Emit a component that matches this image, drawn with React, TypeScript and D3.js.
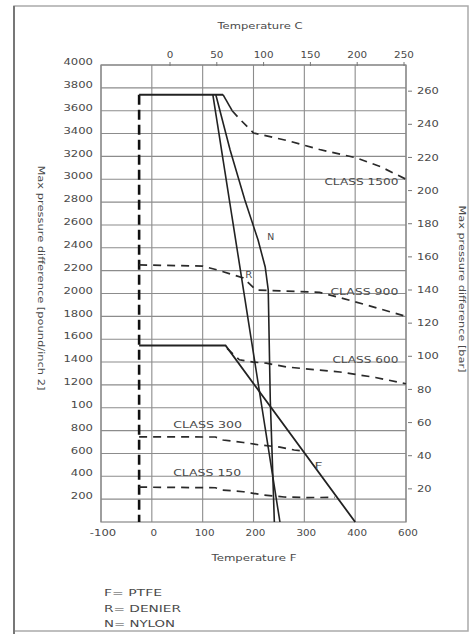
import React from "react";
import * as d3 from "d3";

// axis ticks
const F_TICKS = [-100, 0, 100, 200, 300, 400, 500];
const F_LABELS = ["-100", "0", "100", "200", "300", "400", "600"];
const C_TICKS = [0, 50, 100, 150, 200, 250];
const PSI_TICKS = [200, 400, 600, 800, 1000, 1200, 1400, 1600, 1800, 2000, 2200, 2400, 2600, 2800, 3000, 3200, 3400, 3600, 3800, 4000];
const PSI_LABELS = ["200", "400", "600", "800", "100", "1200", "1400", "1600", "1800", "2000", "2200", "2400", "2600", "2800", "3000", "3200", "3400", "3600", "3800", "4000"];
const BAR_TICKS = [20, 40, 60, 80, 100, 120, 140, 160, 180, 200, 220, 240, 260];
const PSI_PER_BAR = 14.5038;

// curves: [temperature F, pressure psi]
const minTemp = [[-25, 3740], [-25, 0]];
const flatTop = [[-25, 3740], [140, 3740]];
const class1500Knee = [[140, 3740], [158, 3600]];
const class1500 = [[158, 3600], [170, 3540], [200, 3405], [270, 3335], [330, 3260], [400, 3190], [450, 3110], [500, 3000]];
const class900 = [[-25, 2250], [100, 2240], [130, 2205], [180, 2136], [205, 2030], [330, 2010], [365, 1970], [430, 1890], [500, 1800]];
const ptfe = [[-25, 1545], [145, 1545], [400, 0]];
const class600 = [[148, 1520], [172, 1420], [200, 1400], [225, 1390], [265, 1357], [370, 1313], [440, 1265], [500, 1210]];
const class300 = [[-25, 745], [125, 744], [140, 718], [180, 696], [213, 674], [252, 656], [280, 630], [298, 622]];
const class150 = [[-25, 305], [125, 300], [138, 280], [180, 265], [220, 236], [260, 219], [300, 214], [360, 215]];
const denier = [[120, 3740], [252, 0]];
const nylon = [[126, 3737], [154, 3256], [183, 2818], [209, 2468], [223, 2232], [229, 2031], [233, 1068], [237, 543], [241, 0]];

const legend = ["F= PTFE", "R= DENIER", "N= NYLON"];

const W = 476;
const H = 634;

const x = d3.scaleLinear().domain([-100, 500]).range([101, 406]);
const y = d3.scaleLinear().domain([0, 4000]).range([522, 65]);
const yBar = d3.scaleLinear().domain([0, 4000 / PSI_PER_BAR]).range([522, 65]);
const xC = d3.scaleLinear().domain([0, 250]).range([170, 404]);

const line = d3
  .line<number[]>()
  .x((d) => x(d[0]))
  .y((d) => y(d[1]));

const TXT = "#4a4a4a";

const Label = ({ x, y, len, anchor = "start", size = 9, children, transform }: any) => (
  <text
    x={x}
    y={y}
    dy="0.35em"
    fontSize={size}
    fill={TXT}
    textAnchor={anchor}
    textLength={len}
    lengthAdjust="spacingAndGlyphs"
    transform={transform}
  >
    {children}
  </text>
);

export default function App() {
  const solid = { fill: "none", stroke: "#222", strokeWidth: 1.6 };
  const dashed = { fill: "none", stroke: "#2a2a2a", strokeWidth: 1.7, strokeDasharray: "8,6" };

  return (
    <>
      <style>{"body{margin:0;background:#fff}"}</style>
      <svg width={W} height={H} style={{ display: "block", fontFamily: "DejaVu Sans, sans-serif" }}>
        {/* frame */}
        <rect x={14} y={6} width={454} height={625} fill="#fff" stroke="#aaa" strokeWidth={1.5} />
        <line x1={14} y1={6} x2={14} y2={634} stroke="#777" strokeWidth={2} />

        {/* grid */}
        {PSI_TICKS.map((v) => (
          <line key={"h" + v} x1={x(-100)} x2={x(500)} y1={y(v)} y2={y(v)} stroke="#8c8c8c" strokeWidth={1.1} />
        ))}
        {F_TICKS.map((v) => (
          <line key={"v" + v} x1={x(v)} x2={x(v)} y1={y(4000)} y2={y(0)} stroke="#8c8c8c" strokeWidth={1.1} />
        ))}
        <rect x={x(-100)} y={y(4000)} width={x(500) - x(-100)} height={y(0) - y(4000)} fill="none" stroke="#888" strokeWidth={1.2} />

        {/* left axis */}
        {PSI_TICKS.map((v, i) => (
          <Label key={"pl" + v} x={93} y={y(v) - 3} anchor="end" len={PSI_LABELS[i].length * 7.4}>
            {PSI_LABELS[i]}
          </Label>
        ))}
        {/* bottom axis */}
        {F_TICKS.map((v, i) => (
          <Label key={"fl" + v} x={x(v) + 2} y={533} anchor="middle" len={F_LABELS[i].length * 6.6}>
            {F_LABELS[i]}
          </Label>
        ))}
        {/* top axis */}
        {C_TICKS.map((v) => (
          <g key={"c" + v}>
            <line x1={xC(v)} x2={xC(v)} y1={62} y2={66} stroke="#777" />
            <Label x={xC(v)} y={55} anchor="middle" len={String(v).length * 6.6}>
              {String(v)}
            </Label>
          </g>
        ))}
        {/* right axis */}
        {BAR_TICKS.map((v) => (
          <g key={"b" + v}>
            <line x1={408} x2={412} y1={yBar(v)} y2={yBar(v)} stroke="#777" />
            <Label x={417} y={yBar(v)} len={String(v).length * 7.3}>
              {String(v)}
            </Label>
          </g>
        ))}

        {/* titles */}
        <Label x={260} y={26} anchor="middle" len={85}>Temperature C</Label>
        <Label x={254} y={558} anchor="middle" len={85}>Temperature F</Label>
        <Label x={41} y={278} anchor="middle" len={225} transform="rotate(90 41 278)">
          Max pressure difference [pound/inch 2]
        </Label>
        <Label x={462} y={289} anchor="middle" len={167} transform="rotate(90 462 289)">
          Max pressure difference [bar]
        </Label>

        {/* curves */}
        <path d={line(minTemp) as string} fill="none" stroke="#111" strokeWidth={2.6} strokeDasharray="10,5" />
        <path d={line(flatTop) as string} {...solid} strokeWidth={2} />
        <path d={line(class1500Knee) as string} {...solid} />
        <path d={line(class1500) as string} {...dashed} />
        <path d={line(class900) as string} {...dashed} />
        <path d={line(class600) as string} {...dashed} />
        <path d={line(class300) as string} {...dashed} />
        <path d={line(class150) as string} {...dashed} />
        <path d={line(ptfe) as string} {...solid} strokeWidth={1.8} />
        <path d={line(denier) as string} {...solid} />
        <path d={line(nylon) as string} {...solid} />

        {/* annotations */}
        <Label x={x(485)} y={y(2975)} anchor="end" len={74}>CLASS 1500</Label>
        <Label x={x(485)} y={y(2013)} anchor="end" len={68}>CLASS 900</Label>
        <Label x={x(485)} y={y(1418)} anchor="end" len={66}>CLASS 600</Label>
        <Label x={x(42)} y={y(849)} len={69}>CLASS 300</Label>
        <Label x={x(42)} y={y(429)} len={68}>CLASS 150</Label>
        <Label x={x(227)} y={y(2500)} len={7}>N</Label>
        <Label x={x(184)} y={y(2160)} len={7}>R</Label>
        <Label x={x(320)} y={y(490)} len={8}>F</Label>

        {/* legend */}
        {legend.map((s, i) => (
          <Label key={s} x={104} y={593 + i * 15.5} len={[58, 77, 71][i]}>
            {s}
          </Label>
        ))}
      </svg>
    </>
  );
}
